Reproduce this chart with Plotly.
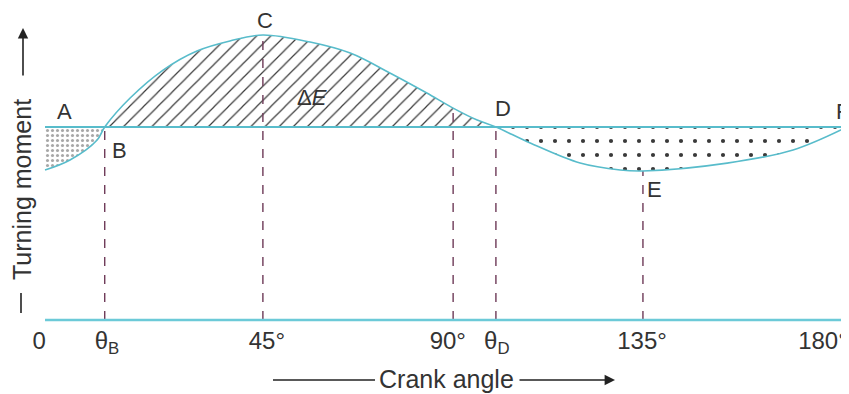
import plotly.graph_objects as go

# ---- data ----
crank = [0, 5.6, 11.7, 13.4, 19.1, 26.5, 34.1, 41.5, 48.9, 59.5, 68.5, 77.4,
         85.7, 91.6, 97.0, 101.2, 108.9, 120.1, 129.1, 134.2, 153.1, 167.9, 180]
torque = [77.7, 82.9, 93.3, 100, 115.0, 129.5, 139.4, 144.6, 147.7, 144.0, 138.3, 128.0,
          117.6, 109.8, 103.6, 100, 91.7, 81.3, 77.7, 77.2, 81.3, 88.1, 100]
mean_torque = 100
baseline = 0

# indices of the key points on the curve
iB, iC, i90, iD, iE, iF = 3, 8, 13, 15, 19, 22

tick_pos = [-1.3, 13.9, 49.8, 90.4, 101.4, 134.0, 174.6]
tick_text = ["0", "θ<sub>B</sub>", "45°", "90°", "θ<sub>D</sub>", "135°", "180°"]

point_labels = ["A", "B", "C", "Δ<i>E</i>", "D", "E", "F"]
label_x = [4.3, 16.8, 49.4, 59.9, 102.8, 136.9, 179.0]
label_y = [107.8, 87.6, 155.2, 115.5, 109.8, 67.4, 107.8]

CYAN = "#58bccb"
DARK = "#333333"
DASH = "#6e3a58"
FONT = "Liberation Sans, Arial, sans-serif"

fig = go.Figure()

# ---- hatched / dotted regions between curve and mean line ----
regions = [
    (0, iB, dict(shape=".", size=5, solidity=0.3, fgcolor="#a8a8a8")),
    (iB, iD, dict(shape="/", size=10, solidity=0.12, fgcolor="#3a3a3a")),
    (iD, iF, dict(shape=".", size=14, solidity=0.07, fgcolor="#3a3a3a")),
]
for i0, i1, pat in regions:
    fig.add_trace(go.Scatter(x=[crank[i0], crank[i1]], y=[mean_torque, mean_torque],
                             mode="lines", line=dict(width=0), hoverinfo="skip",
                             showlegend=False))
    pat = dict(pat, bgcolor="rgba(255,255,255,0)", fillmode="replace")
    fig.add_trace(go.Scatter(x=crank[i0:i1 + 1], y=torque[i0:i1 + 1], mode="lines",
                             line=dict(width=0, shape="spline"), fill="tonexty",
                             fillcolor="rgba(255,255,255,0)", fillpattern=pat,
                             hoverinfo="skip", showlegend=False))

# ---- vertical dashed lines ----
for i in [iB, iC, i90, iD, iE, iF]:
    fig.add_trace(go.Scatter(x=[crank[i], crank[i]], y=[baseline, torque[i]], mode="lines",
                             line=dict(color=DASH, width=1.4, dash="dash"),
                             hoverinfo="skip", showlegend=False))

# ---- baseline, mean line, turning moment curve ----
fig.add_trace(go.Scatter(x=[crank[0], crank[-1]], y=[baseline, baseline], mode="lines",
                         line=dict(color="#6ccad8", width=2.5), showlegend=False))
fig.add_trace(go.Scatter(x=[crank[0], crank[-1]], y=[mean_torque, mean_torque], mode="lines",
                         line=dict(color=CYAN, width=2), showlegend=False))
fig.add_trace(go.Scatter(x=crank, y=torque, mode="lines",
                         line=dict(color=CYAN, width=1.6, shape="spline"), showlegend=False))

# ---- point labels ----
for t, x, y in zip(point_labels, label_x, label_y):
    fig.add_annotation(x=x, y=y, text=t, showarrow=False, xanchor="center", yanchor="middle",
                       font=dict(family=FONT, size=22, color=DARK))

# ---- axis titles with arrows (paper coordinates; page has an 8px body margin) ----
OFF = 8.0
L, W = 22.0, 819.0
T, H = 0.0, 316.0
def px(x):
    return (x - OFF - L) / W
def py(y):
    return (T + H - (y - OFF)) / H

fig.add_annotation(xref="paper", yref="paper", x=px(446), y=py(379), text="Crank angle",
                   xanchor="center", yanchor="middle",
                   showarrow=False, font=dict(family=FONT, size=25, color=DARK))
fig.add_shape(type="line", xref="paper", yref="paper", x0=px(273), x1=px(375),
              y0=py(380), y1=py(380), line=dict(color="#222", width=1.6))
fig.add_annotation(xref="paper", yref="paper", x=px(615), y=py(380), ax=-97, ay=0,
                   text="", showarrow=True, arrowhead=2, arrowsize=1.3, arrowwidth=1.6,
                   arrowcolor="#222")

fig.add_annotation(xref="paper", yref="paper", x=px(22), y=py(190), text="Turning moment",
                   xanchor="center", yanchor="middle",
                   textangle=-90, showarrow=False, font=dict(family=FONT, size=25, color=DARK))
fig.add_shape(type="line", xref="paper", yref="paper", x0=px(21), x1=px(21),
              y0=py(293), y1=py(313), line=dict(color="#222", width=1.6))
fig.add_annotation(xref="paper", yref="paper", x=px(23), y=py(28), ax=0, ay=49,
                   text="", showarrow=True, arrowhead=2, arrowsize=1.3, arrowwidth=1.6,
                   arrowcolor="#222")

fig.update_layout(
    width=841, height=386,
    margin=dict(l=22, r=0, t=0, b=70),
    paper_bgcolor="white", plot_bgcolor="white",
    font=dict(family=FONT, color=DARK),
    xaxis=dict(range=[-3.37, 180.45], tickvals=tick_pos, ticktext=tick_text,
               showgrid=False, zeroline=False, showline=False, ticks="",
               ticklabeloverflow="allow",
               tickfont=dict(family=FONT, size=24, color=DARK), fixedrange=True),
    yaxis=dict(range=[-2.07, 161.66], visible=False, showgrid=False, zeroline=False,
               fixedrange=True),
    showlegend=False,
)

fig.write_html("out.html")
